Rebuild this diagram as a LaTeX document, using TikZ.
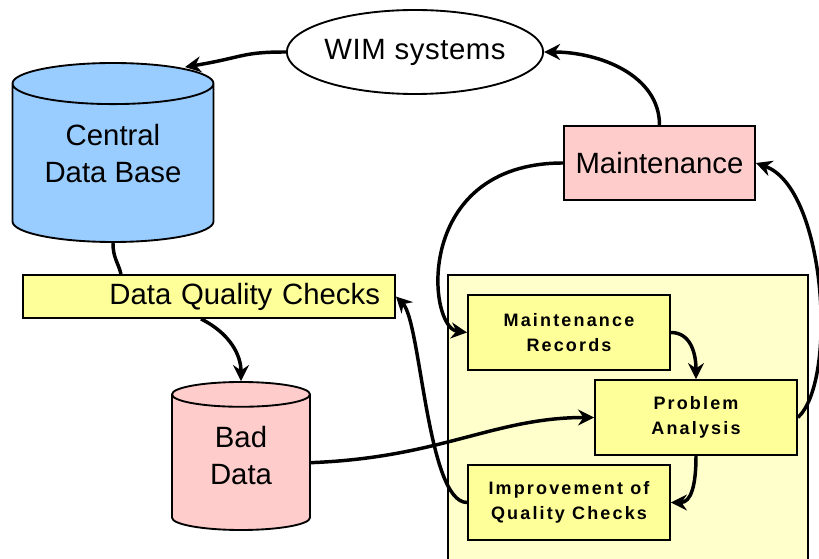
\documentclass[tikz,border=0pt]{standalone}
\usepackage{fontspec}
\setmainfont{Liberation Sans}
\newfontfamily\boxfont{Liberation Sans}[LetterSpace=12]
\usetikzlibrary{shapes.geometric,arrows.meta,calc}

\definecolor{dbblue}{HTML}{99CCFF}
\definecolor{errpink}{HTML}{FFCCCC}
\definecolor{chkyellow}{HTML}{FFFF99}
\definecolor{panelyellow}{HTML}{FFFFCC}

\tikzset{
  flow/.style={line width=2.6pt,-{Stealth[length=12pt,width=12pt,inset=4pt]}},
  link/.style={line width=2.6pt},
  db/.style={cylinder,shape border rotate=90,anchor=shape center,draw,line width=1.4pt,align=center,
    inner sep=0pt,font=\fontsize{22pt}{27.75pt}\selectfont},
  bigbox/.style={draw,line width=1.4pt,inner sep=0pt,font=\fontsize{22pt}{25pt}\selectfont},
  smallbox/.style={draw,line width=1.4pt,fill=chkyellow,inner sep=0pt,align=center,
    minimum width=151.5pt,minimum height=56.25pt,font=\boxfont\bfseries\fontsize{13.5pt}{19pt}\selectfont},
}

\begin{document}
\begin{tikzpicture}[x=0.75pt,y=0.75pt,yscale=-1,xscale=1]
\useasboundingbox (0,0) rectangle (819,559);

\draw [line width=1pt,fill=panelyellow] (448,275) rectangle (808,600);

\node [db,fill=dbblue,minimum width=150.75pt,minimum height=134.25pt,aspect=0.3,text depth=15pt] (cdb) at (113,152.5) {Central\\Data Base};
\node [db,fill=errpink,minimum width=103.5pt,minimum height=111pt,aspect=0.4,text depth=10.5pt] (bad) at (241,456) {Bad\\Data};
\node [ellipse,draw,line width=1.4pt,fill=white,inner sep=0pt,minimum width=192pt,minimum height=63pt,
  font=\fontsize{22pt}{25pt}\selectfont\addfontfeature{LetterSpace=2}] (wim) at (415,52) {WIM systems};
\node [bigbox,fill=errpink,minimum width=143.25pt,minimum height=55.5pt] (maint) at (659.5,163) {Maintenance};
\node [bigbox,fill=chkyellow,minimum height=32.25pt,inner xsep=11.25pt,text width=256.5pt,align=right] (dqc) at (209,296.5) {Data Quality Checks};

\node [smallbox] (rec) at (569,332.5) {Maintenance\\Records};
\node [smallbox] (prob) at (696,417.5) {Problem\\Analysis};
\node [smallbox] (impr) at (569,502.5) {Improvement of\\Quality Checks};

\draw [flow] (wim.west) .. controls +(-45,0) and +(60,-10) .. ($(cdb.top)+(72,5)$);
\draw [flow] (maint.north) .. controls +(0,-50) and +(55,0) .. (wim.east);
\draw [flow] (prob.east) .. controls +(40,-37) and +(70,25) .. (maint.east);
\draw [flow] (maint.west) .. controls +(-150,0) and +(-40,-5) .. (rec.west);
\draw [flow] (rec.east) .. controls +(20,0) and +(0,-25) .. (prob.north);
\draw [flow] (prob.south) .. controls +(0,30) and +(20,0) .. (impr.east);
\draw [flow] (impr.west) .. controls +(-40,0) and +(25,25) .. (dqc.east);
\draw [flow] (bad.east) .. controls +(130,-5) and +(-100,0) .. (prob.west);

\draw [link] (cdb.bottom) .. controls +(0,15) and +(-3,-12) .. ($(cdb.bottom |- dqc.north)+(8,0)$);
\draw [flow] ($(dqc.south)+(-8,0)$) .. controls +(30,15) and +(0,-25) .. (bad.top);

\end{tikzpicture}
\end{document}
